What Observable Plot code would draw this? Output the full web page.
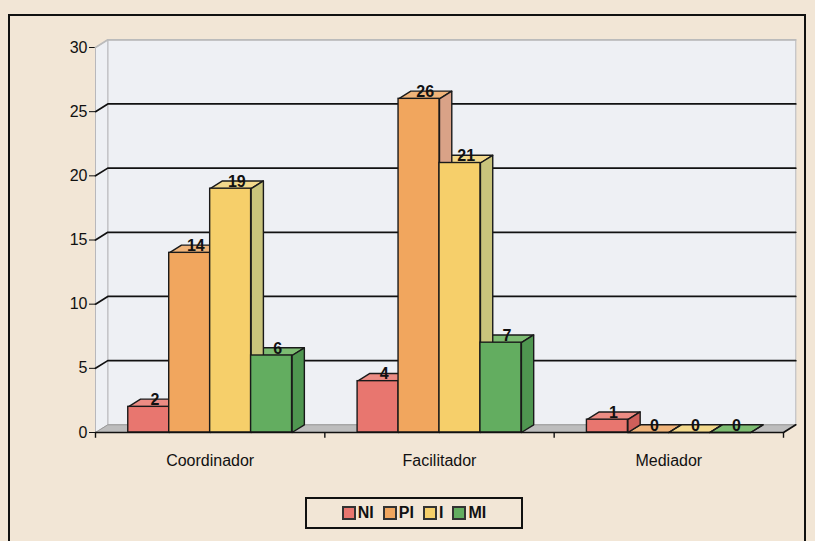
<!DOCTYPE html>
<html>
<head>
<meta charset="utf-8">
<script src="https://cdn.jsdelivr.net/npm/d3@7"></script>
<script src="https://cdn.jsdelivr.net/npm/@observablehq/plot@0.6"></script>
<style>
  html, body { margin: 0; padding: 0; }
  body { width: 815px; height: 541px; overflow: hidden; background: #f2e6d6; font-family: "Liberation Sans", Arial, sans-serif; position: relative; }
  #frame { position: absolute; left: 8px; top: 14px; width: 798px; height: 600px; border: 2px solid #111; box-sizing: border-box; }
  #chart { position: absolute; left: 0; top: 0; }
  #legend { position: absolute; left: 305px; top: 497px; width: 218px; height: 32px; border: 2px solid #111; box-sizing: border-box; display: flex; align-items: center; justify-content: center; gap: 9px; font-size: 16px; font-weight: bold; color: #111; }
  #legend .item { display: flex; align-items: center; gap: 2px; }
  #legend .sw { width: 10px; height: 10px; border: 2px solid #333; display: inline-block; }
</style>
</head>
<body>
<div id="frame"></div>
<div id="chart"></div>
<div id="legend"></div>
<script>
// ---- data ----
const groups = ["Coordinador", "Facilitador", "Mediador"];
const series = ["NI", "PI", "I", "MI"];
const NI = [2, 4, 1];
const PI = [14, 26, 0];
const I  = [19, 21, 0];
const MI = [6, 7, 0];
const yTicks = [0, 5, 10, 15, 20, 25, 30];

// ---- styling ----
const frontColors = {NI: "#e8766f", PI: "#f1a65e", I: "#f6cf6a", MI: "#63ad60"};
const topColors   = {NI: "#ec8c84", PI: "#f0b47a", I: "#f3d98c", MI: "#7dbc72"};
const sideColors  = {NI: "#cf5f5a", PI: "#d9a287", I: "#c9c47c", MI: "#4f9650"};

const values = {NI, PI, I, MI};
const GW = 5.6, GAP = 0.8, DX = 0.3, DY = 0.6;
const XMAX = GW * groups.length;

const rows = [];
groups.forEach((g, gi) => series.forEach((s, si) => {
  const x1 = gi * GW + GAP + si;
  rows.push({g, s, gi, si, v: values[s][gi], x1, x2: x1 + 1, id: g + s});
}));

function poly(fn) {
  const out = [];
  rows.forEach(r => fn(r).forEach(([x, y]) => out.push({x, y, id: r.id, s: r.s})));
  return out;
}
const tops = poly(r => [[r.x1, r.v], [r.x1 + DX, r.v + DY], [r.x2 + DX, r.v + DY], [r.x2, r.v], [r.x1, r.v]]);
const sides = poly(r => [[r.x2, 0], [r.x2 + DX, DY], [r.x2 + DX, r.v + DY], [r.x2, r.v], [r.x2, 0]]);

const wallPts = [
  {x: DX, y: DY, id: "back"}, {x: XMAX + DX, y: DY, id: "back"}, {x: XMAX + DX, y: 30 + DY, id: "back"}, {x: DX, y: 30 + DY, id: "back"}, {x: DX, y: DY, id: "back"},
  {x: 0, y: 0, id: "left"}, {x: DX, y: DY, id: "left"}, {x: DX, y: 30 + DY, id: "left"}, {x: 0, y: 30, id: "left"}, {x: 0, y: 0, id: "left"}
];
const floorPts = [{x: 0, y: 0}, {x: XMAX, y: 0}, {x: XMAX + DX, y: DY}, {x: DX, y: DY}, {x: 0, y: 0}];
const grid = [];
yTicks.filter(t => t > 0).forEach(t => {
  grid.push({x: 0, y: t, t}, {x: DX, y: t + DY, t}, {x: XMAX + DX, y: t + DY, t});
});
const groupEdges = d3.range(groups.length + 1).map(i => i * GW);

const seriesMarks = (data, colors) => series.map(s =>
  Plot.line(data.filter(d => d.s === s), {x: "x", y: "y", z: "id", fill: colors[s], stroke: "#1a1a1a", strokeWidth: 1.4, strokeLinejoin: "round"})
);

const chart = Plot.plot({
  width: 815,
  height: 480,
  marginLeft: 95,
  marginRight: 32,
  marginTop: 47,
  marginBottom: 48,
  style: {background: "transparent", fontFamily: "'Liberation Sans', Arial, sans-serif", fontSize: "16px", color: "#111"},
  x: {domain: [0, XMAX], axis: null},
  y: {domain: [0, 30], ticks: yTicks, tickSize: 6, tickPadding: 2, label: null, line: true},
  marks: [
    Plot.line(wallPts, {x: "x", y: "y", z: "id", fill: "#eef0f4", stroke: "#b8b8bc", strokeWidth: 1}),
    Plot.line(floorPts, {x: "x", y: "y", fill: "#bdbdbd", stroke: "#999", strokeWidth: 1}),
    Plot.line(grid, {x: "x", y: "y", z: "t", stroke: d => d.t === 30 ? "#bbbbbb" : "#111", strokeWidth: 1.7}),
    ...seriesMarks(tops, topColors),
    ...seriesMarks(sides, sideColors),
    ...series.map(s => Plot.rect(rows.filter(r => r.s === s), {x1: "x1", x2: "x2", y1: 0, y2: "v", fill: frontColors[s], stroke: "#1a1a1a", strokeWidth: 1.4})),
    Plot.ruleY([0], {x1: 0, x2: XMAX, stroke: "#111", strokeWidth: 1.7}),
    Plot.line([{x: XMAX, y: 0}, {x: XMAX + DX, y: DY}], {x: "x", y: "y", stroke: "#111", strokeWidth: 1.7}),
    Plot.ruleX(groupEdges, {y1: 0, y2: -0.45, stroke: "#111", strokeWidth: 1.4}),
    Plot.text(rows, {x: r => (r.x1 + r.x2) / 2 + DX / 2, y: "v", text: r => String(r.v), dy: -2, lineAnchor: "bottom", fontSize: 16, fontWeight: "bold", fill: "#111"}),
    Plot.text(groups, {x: (g, i) => i * GW + GW / 2, y: 0, text: d => d, dy: 28, fontSize: 16, fill: "#111"})
  ]
});
document.getElementById("chart").appendChild(chart);

const legend = document.getElementById("legend");
series.forEach(s => {
  const item = document.createElement("span");
  item.className = "item";
  const sw = document.createElement("span");
  sw.className = "sw";
  sw.style.background = frontColors[s];
  item.appendChild(sw);
  item.appendChild(document.createTextNode(s));
  legend.appendChild(item);
});
</script>
</body>
</html>
